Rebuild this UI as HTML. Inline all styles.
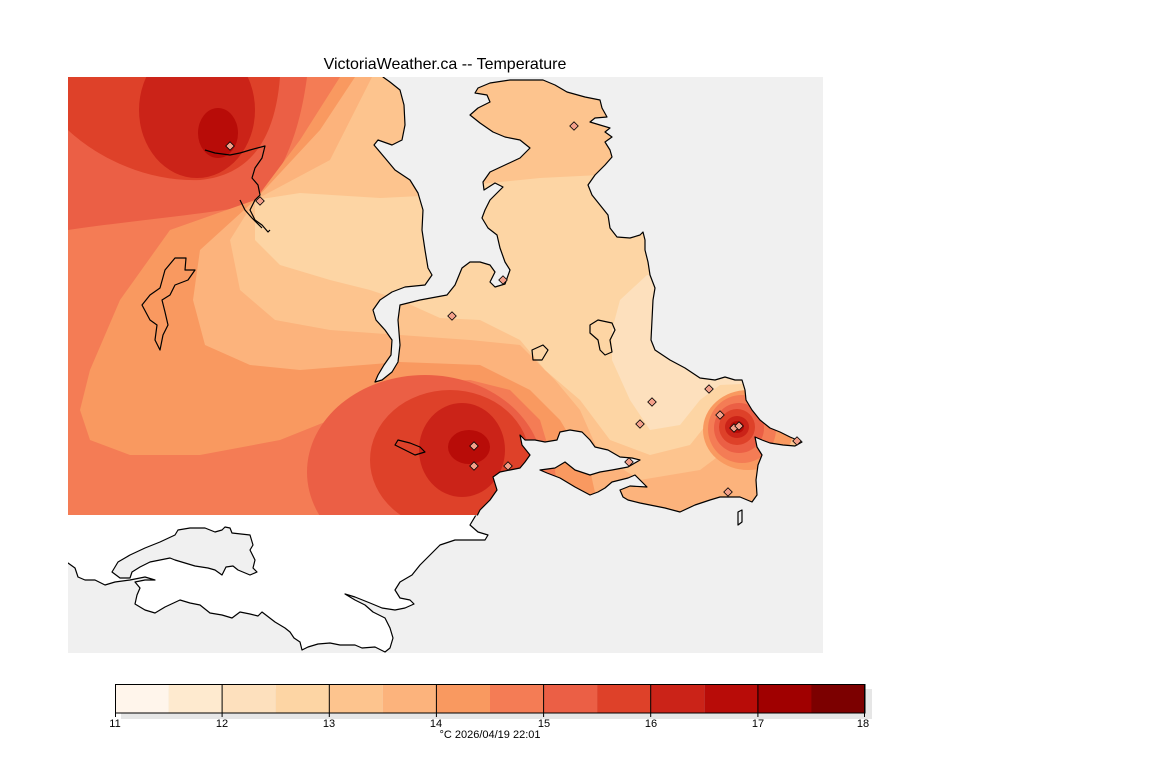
<!DOCTYPE html>
<html><head><meta charset="utf-8"><style>
html,body{margin:0;padding:0;background:#fff;}
svg{display:block;}
text{font-family:"Liberation Sans",sans-serif;}
</style></head><body>
<svg width="1152" height="768" viewBox="0 0 1152 768" xmlns="http://www.w3.org/2000/svg">
<defs>
<clipPath id="m"><rect x="68" y="77" width="755" height="576"/></clipPath>
<clipPath id="f"><rect x="68" y="77" width="755" height="438"/></clipPath>
<clipPath id="b"><rect x="68" y="515.5" width="755" height="137.5"/></clipPath>
<g id="d"><rect x="-3" y="-3" width="6" height="6" transform="rotate(45)"/></g>
</defs>
<text x="445" y="69" font-size="16" text-anchor="middle" fill="#000">VictoriaWeather.ca -- Temperature</text>
<g clip-path="url(#f)">
<rect x="68" y="77" width="755" height="438" fill="#f47c55"/>
<path d="M68,77 L307,77 C300,130 285,170 255,205 C200,215 120,222 68,230 Z" fill="#eb5f45"/>
<path d="M68,77 L280,77 C275,140 250,175 200,180 C150,182 100,160 68,130 Z" fill="#de4129"/>
<ellipse cx="197" cy="110" rx="58" ry="68" fill="#cb2318"/>
<ellipse cx="218" cy="133" rx="20" ry="25" fill="#b80c08"/>
<path d="M340,77 L830,77 L830,515 L560,515 L555,470 L540,420 L510,390 L470,380 L420,382 L380,395 L330,420 L280,440 L200,455 L130,455 L90,440 L80,410 L90,370 L120,300 L170,230 L255,200 L300,140 Z" fill="#f99960"/>
<path d="M355,77 L830,77 L830,515 L600,515 L590,470 L560,420 L530,390 L480,365 L400,362 L300,370 L250,365 L205,345 L193,300 L200,250 L255,200 L320,130 Z" fill="#fcb37c"/>
<path d="M372,77 L830,77 L830,455 L720,455 L700,470 L640,480 L600,455 L580,410 L555,380 L520,345 L470,340 L400,335 L330,330 L275,320 L240,290 L230,240 L255,200 L330,160 Z" fill="#fdc48e"/>
<path d="M255,200 L300,193 L380,198 L440,195 L470,185 L540,178 L600,175 L830,170 L830,380 L730,395 L710,420 L690,445 L650,455 L610,440 L580,400 L545,370 L520,340 L480,320 L440,318 L400,300 L370,290 L330,280 L280,265 L255,240 Z" fill="#fdd5a4"/>
<path d="M647,275 L620,300 L612,330 L612,360 L630,400 L650,430 L680,425 L700,400 L720,385 L830,380 L830,275 Z" fill="#fde0bd"/>
<ellipse cx="748" cy="430" rx="45" ry="40" fill="#f99960"/>
<ellipse cx="742" cy="429" rx="34" ry="34" fill="#f47c55"/>
<ellipse cx="739" cy="428" rx="25" ry="25" fill="#eb5f45"/>
<ellipse cx="737" cy="427" rx="18" ry="18" fill="#de4129"/>
<ellipse cx="737" cy="427" rx="12" ry="11" fill="#cb2318"/>
<ellipse cx="737" cy="427" rx="7" ry="6" fill="#b80c08"/>
<ellipse cx="425" cy="472" rx="118" ry="97" fill="#eb5f45"/>
<ellipse cx="450" cy="460" rx="80" ry="70" fill="#de4129"/>
<ellipse cx="462" cy="450" rx="43" ry="47" fill="#cb2318"/>
<ellipse cx="469" cy="447" rx="21" ry="17" fill="#b80c08"/>
</g>
<g clip-path="url(#m)" stroke="#000" stroke-width="1.2" stroke-linejoin="round">
<path fill="#f0f0f0" d="M383,70 L383,77 L390,82 L400,90 L404,105 L405,125 L402,140 L392,145 L378,140 L374,145 L385,158 L395,170 L410,180 L418,193 L423,210 L422,230 L425,250 L428,268 L432,275 L425,285 L405,287 L392,292 L380,300 L373,310 L376,320 L385,330 L392,340 L391,355 L384,365 L378,375 L375,382 L382,380 L392,372 L398,362 L400,345 L398,320 L400,305 L420,300 L447,295 L455,285 L462,268 L470,262 L480,262 L490,265 L495,272 L490,282 L495,287 L505,284 L510,270 L505,262 L500,248 L497,235 L488,228 L482,218 L485,210 L490,200 L503,187 L495,183 L484,190 L483,182 L490,172 L505,165 L520,158 L530,148 L520,140 L505,137 L493,132 L480,123 L470,115 L478,108 L490,102 L487,95 L475,93 L478,88 L490,83 L510,80 L543,80 L555,85 L567,92 L585,97 L600,100 L602,108 L607,117 L595,118 L590,122 L600,125 L610,128 L605,132 L612,137 L605,142 L610,150 L612,157 L605,165 L595,175 L588,185 L592,195 L600,205 L608,215 L610,228 L617,237 L630,238 L640,235 L643,232 L645,240 L645,250 L648,262 L650,275 L655,288 L653,300 L652,320 L651,340 L655,350 L670,360 L685,368 L700,378 L715,380 L725,377 L735,380 L742,380 L745,390 L746,400 L752,410 L760,420 L770,428 L780,432 L790,437 L802,442 L795,446 L783,445 L770,443 L762,440 L755,437 L757,447 L762,455 L758,465 L756,480 L757,495 L752,502 L740,497 L733,497 L720,497 L710,500 L695,505 L680,512 L665,508 L650,505 L640,503 L628,500 L623,497 L620,490 L630,486 L647,487 L640,480 L635,475 L628,478 L620,480 L612,482 L605,488 L598,492 L590,495 L575,487 L560,478 L547,473 L540,470 L555,468 L565,462 L575,470 L590,475 L600,472 L612,470 L628,467 L640,460 L632,458 L620,457 L608,450 L595,447 L590,440 L582,432 L570,430 L560,432 L557,440 L545,442 L535,440 L525,440 L520,435 L522,445 L530,455 L525,462 L520,468 L510,470 L500,472 L493,477 L497,490 L490,500 L480,510 L476,518 L476,530 L830,530 L830,70 Z"/>
<rect x="68" y="515.5" width="755" height="140" fill="#f0f0f0" stroke="none"/>
<g clip-path="url(#b)">
<path fill="#fff" d="M60,505 L480,505 L476,515 L470,525 L478,532 L488,535 L485,540 L470,540 L455,540 L440,545 L430,555 L420,565 L412,575 L400,582 L395,590 L400,598 L410,600 L414,604 L405,608 L395,610 L382,608 L370,603 L355,597 L345,594 L355,600 L365,605 L373,612 L385,618 L390,628 L393,638 L390,648 L385,652 L375,647 L362,648 L355,645 L340,645 L330,643 L318,644 L308,647 L302,650 L300,642 L294,638 L290,632 L285,628 L275,622 L262,612 L258,616 L250,614 L240,612 L232,618 L222,615 L210,613 L200,605 L190,603 L180,600 L165,607 L155,613 L145,610 L135,604 L137,595 L140,588 L135,582 L145,580 L155,580 L145,577 L130,580 L115,582 L105,585 L95,580 L85,580 L78,577 L75,568 L68,563 L60,560 Z"/>
</g>
<path fill="#f0f0f0" d="M112,572 L118,562 L130,555 L145,548 L160,542 L175,535 L178,530 L190,528 L205,528 L215,532 L222,530 L225,527 L230,528 L232,533 L250,535 L253,545 L250,550 L255,560 L253,568 L257,572 L250,575 L238,570 L233,566 L226,567 L222,575 L215,570 L208,568 L195,566 L185,563 L175,560 L170,558 L160,560 L150,562 L140,567 L132,572 L130,578 L120,578 Z"/>
<path fill="none" d="M205,150 L215,153 L230,155 L240,153 L250,150 L265,146 L262,158 L255,168 L252,178 L258,185 L260,195 L255,200 L250,210 L255,220 L262,225 L268,232 L270,230"/>
<path fill="none" d="M240,200 L245,210 L252,218 L262,228"/>
<path fill="none" d="M160,350 L155,340 L157,325 L150,320 L142,305 L150,295 L160,288 L165,270 L175,258 L186,258 L185,270 L195,270 L188,280 L175,285 L170,295 L162,300 L165,312 L168,325 L163,335 Z"/>
<path fill="none" d="M395,445 L398,440 L410,443 L420,447 L425,452 L415,455 L405,450 Z"/>
<path fill="none" d="M590,325 L598,320 L612,323 L615,330 L610,340 L612,352 L605,355 L600,350 L598,340 L590,333 Z"/>
<path fill="none" d="M532,350 L543,345 L548,350 L542,360 L533,360 Z"/>
<path fill="none" d="M738,512 L742,510 L742,522 L738,525 Z"/>
</g>
<g stroke="#000" stroke-width="0.8" fill="#f4a08a">
<use href="#d" x="230" y="146"/><use href="#d" x="260" y="201"/><use href="#d" x="574" y="126"/>
<use href="#d" x="503" y="280"/><use href="#d" x="452" y="316"/><use href="#d" x="652" y="402"/>
<use href="#d" x="640" y="424"/><use href="#d" x="709" y="389"/><use href="#d" x="720" y="415"/>
<use href="#d" x="734" y="428"/><use href="#d" x="739" y="426"/><use href="#d" x="474" y="446"/>
<use href="#d" x="474" y="466"/><use href="#d" x="508" y="466"/><use href="#d" x="629" y="462"/>
<use href="#d" x="728" y="492"/><use href="#d" x="797" y="441"/>
</g>
<rect x="121" y="689" width="751" height="30" fill="#e6e6e6"/>
<g stroke="none">
<rect x="115" y="684" width="53.6" height="29" fill="#fff5eb"/>
<rect x="168.6" y="684" width="53.6" height="29" fill="#feeacf"/>
<rect x="222.1" y="684" width="53.6" height="29" fill="#fde0bd"/>
<rect x="275.7" y="684" width="53.6" height="29" fill="#fdd5a4"/>
<rect x="329.3" y="684" width="53.6" height="29" fill="#fdc48e"/>
<rect x="382.9" y="684" width="53.6" height="29" fill="#fcb37c"/>
<rect x="436.4" y="684" width="53.6" height="29" fill="#f99960"/>
<rect x="490" y="684" width="53.6" height="29" fill="#f47c55"/>
<rect x="543.6" y="684" width="53.6" height="29" fill="#eb5f45"/>
<rect x="597.1" y="684" width="53.6" height="29" fill="#de4129"/>
<rect x="650.7" y="684" width="53.6" height="29" fill="#cb2318"/>
<rect x="704.3" y="684" width="53.6" height="29" fill="#b80c08"/>
<rect x="757.9" y="684" width="53.6" height="29" fill="#a00000"/>
<rect x="811.4" y="684" width="53.6" height="29" fill="#7c0000"/>
</g>
<rect x="115.5" y="684.5" width="749.5" height="28.5" fill="none" stroke="#000" stroke-width="1"/>
<g stroke="#000" stroke-width="1">
<line x1="222.1" y1="684" x2="222.1" y2="717"/><line x1="329.3" y1="684" x2="329.3" y2="717"/>
<line x1="436.4" y1="684" x2="436.4" y2="717"/><line x1="543.6" y1="684" x2="543.6" y2="717"/>
<line x1="650.7" y1="684" x2="650.7" y2="717"/><line x1="757.9" y1="684" x2="757.9" y2="717"/>
<line x1="115.5" y1="684" x2="115.5" y2="717"/><line x1="864.5" y1="684" x2="864.5" y2="717"/>
</g>
<g font-size="11" text-anchor="middle" fill="#000">
<text x="115" y="727">11</text><text x="222" y="727">12</text><text x="329" y="727">13</text>
<text x="436" y="727">14</text><text x="544" y="727">15</text><text x="651" y="727">16</text>
<text x="758" y="727">17</text><text x="863" y="727">18</text>
<text x="490" y="738">°C  2026/04/19 22:01</text>
</g>
</svg>
</body></html>
